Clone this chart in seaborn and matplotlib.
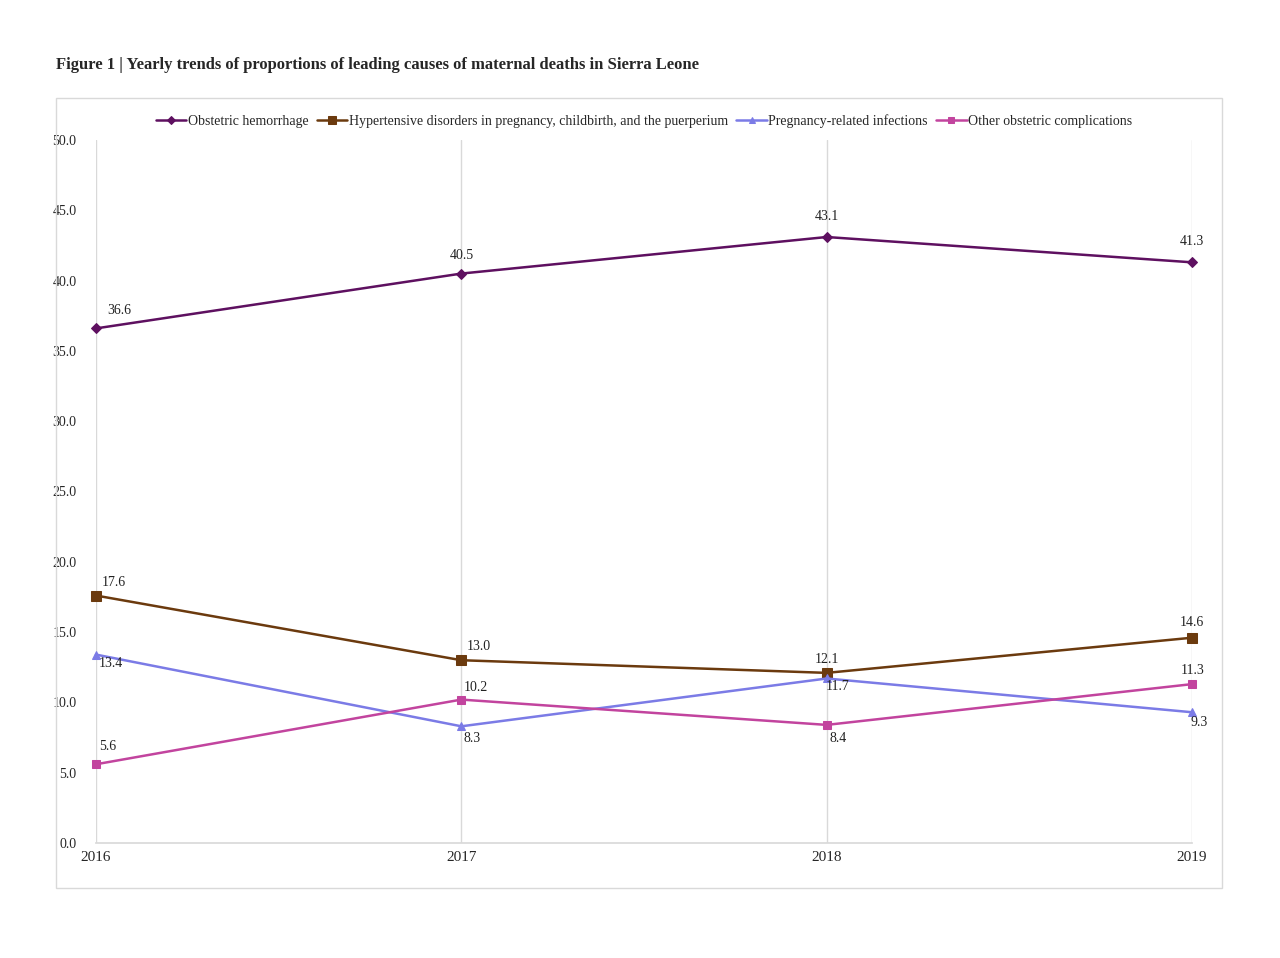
import matplotlib
matplotlib.use("Agg")
import matplotlib.pyplot as plt
import seaborn as sns
import pandas as pd
from matplotlib.patches import Rectangle

years = [2016, 2017, 2018, 2019]
series_names = ["Obstetric hemorrhage",
                "Hypertensive disorders in pregnancy, childbirth, and the puerperium",
                "Pregnancy-related infections",
                "Other obstetric complications"]
hemorrhage = [36.6, 40.5, 43.1, 41.3]
hypertensive = [17.6, 13.0, 12.1, 14.6]
infections = [13.4, 8.3, 11.7, 9.3]
other = [5.6, 10.2, 8.4, 11.3]
yticks = [0, 5, 10, 15, 20, 25, 30, 35, 40, 45, 50]

sns.set_theme(style="white")
plt.rcParams['font.family'] = ['Liberation Serif', 'DejaVu Serif']

fig = plt.figure(figsize=(12.8, 9.58), dpi=100)
W, H = 1280, 958
ax = fig.add_axes([96/W, 1-843/H, (1192-96)/W, (843-140)/H])

colors = ["#5E1060", "#6B3A0E", "#7B7BE6", "#C2449E"]
markers = ["D", "s", "^", "s"]
msizes = [5, 7, 6, 6]
vals = [hemorrhage, hypertensive, infections, other]
rows = []
for n, v in zip(series_names, vals):
    for y, x in zip(years, v):
        rows.append({"year": y, "value": x, "series": n})
df = pd.DataFrame(rows)
for n, c, m, s in zip(series_names, colors, markers, msizes):
    d = df[df.series == n]
    sns.lineplot(data=d, x="year", y="value", ax=ax, color=c, marker=m,
                 markersize=s, markeredgecolor=c, linewidth=1.8, label=n,
                 clip_on=False)

offs = [
    [(8, 8, 'left', 'bottom'), (0, 8, 'center', 'bottom'), (0, 10, 'center', 'bottom'), (0, 10, 'center', 'bottom')],
    [(4, 5, 'left', 'bottom'), (4, 5, 'left', 'bottom'), (0, 5, 'center', 'bottom'), (0, 6, 'center', 'bottom')],
    [(2, -2, 'left', 'top'), (8, -4, 'center', 'top'), (8, -1, 'center', 'top'), (5, -3, 'center', 'top')],
    [(2, 8, 'left', 'bottom'), (2, 4, 'left', 'bottom'), (8, -5, 'center', 'top'), (-8, 5, 'left', 'bottom')],
]
for v, o in zip(vals, offs):
    for x, y, (dx, dy, ha, va) in zip(years, v, o):
        ax.annotate(f"{y:.1f}", (x, y), xytext=(dx, dy), textcoords="offset points",
                    ha=ha, va=va, fontsize=10, color="#222222")

ax.set_xlim(2016, 2019)
ax.set_ylim(0, 50)
ax.set_xticks(years)
ax.set_xticklabels([str(y) for y in years], fontsize=11)
ax.set_yticks(yticks)
ax.set_yticklabels([f"{t:.1f}" for t in yticks], fontsize=10)
ax.tick_params(axis='y', pad=14, length=0)
ax.tick_params(axis='x', pad=6, length=0)
ax.set_xlabel("")
ax.set_ylabel("")
ax.grid(axis='x', color="#d9d9d9", linewidth=1)
ax.grid(axis='y', visible=False)
for sp in ["top", "right", "left"]:
    ax.spines[sp].set_visible(False)
ax.spines["bottom"].set_color("#d9d9d9")
ax.set_facecolor("none")

ax.legend(loc="lower center", bbox_to_anchor=(0.5, 1.0), ncol=4, frameon=False,
          fontsize=10, handlelength=2.2, handletextpad=0.1, columnspacing=0.6,
          borderaxespad=0.5, markerscale=0.8)

fig.patches.append(Rectangle((56/W, 1-888/H), (1222-56)/W, (888-98)/H,
                             transform=fig.transFigure, fill=False,
                             edgecolor="#d9d9d9", linewidth=1))
fig.text(56/W, 1-65/H, "Figure 1 | Yearly trends of proportions of leading causes of maternal deaths in Sierra Leone",
         fontsize=12, fontweight='bold', va='center', ha='left')

fig.savefig("out.png", dpi=100)
